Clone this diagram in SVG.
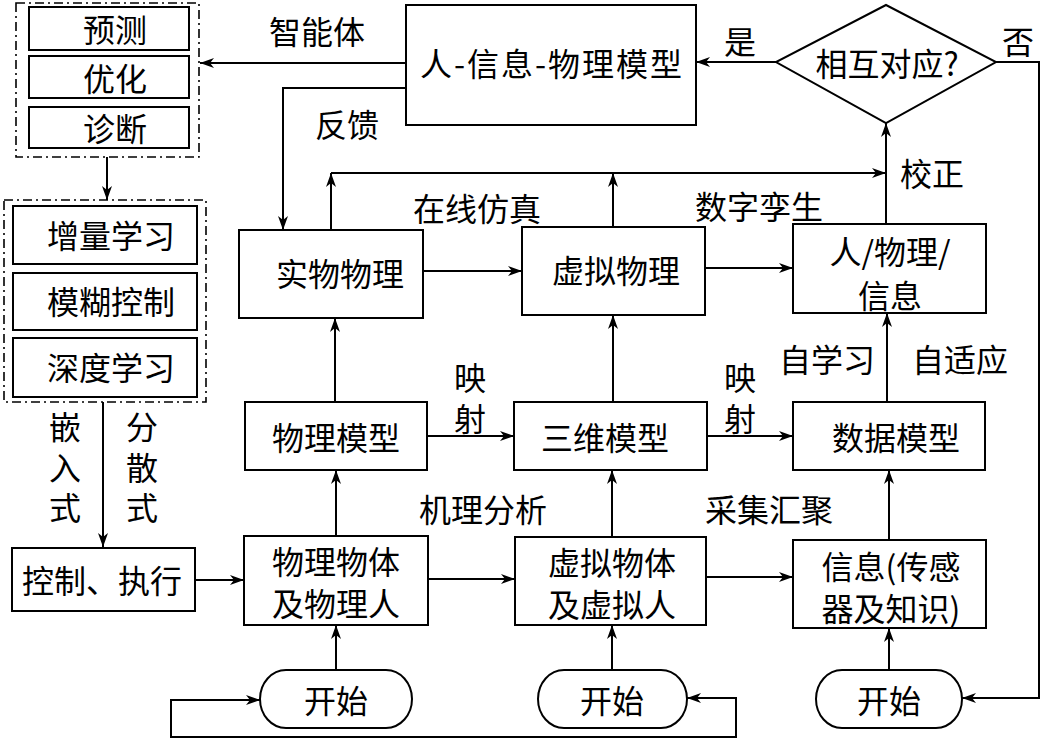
<svg xmlns="http://www.w3.org/2000/svg" width="1044" height="739" viewBox="0 0 1044 739">
<style>
.b{fill:#fff;stroke:#000;stroke-width:2}
.d{fill:none;stroke:#000;stroke-width:1.6;stroke-dasharray:9,4,2,4}
.t{font-family:"Noto Sans CJK SC","Liberation Sans",sans-serif;font-size:32px;fill:#000;text-anchor:middle;dominant-baseline:central}
.v{font-family:"Noto Sans CJK SC","Liberation Sans",sans-serif;font-size:32px;fill:#000;writing-mode:vertical-rl;letter-spacing:8.5px}
.c path{fill:none;stroke:#000;stroke-width:2;marker-end:url(#a)}
.c path.n{marker-end:none}
</style>
<defs>
<marker id="a" viewBox="0 0 14 10" refX="14" refY="5" markerWidth="14" markerHeight="10" markerUnits="userSpaceOnUse" orient="auto-start-reverse">
<path d="M0,0 L14,5 L0,10 L4,5 z" fill="#000"/>
</marker>
</defs>
<rect width="1044" height="739" fill="#fff"/>

<g id="grp1">
<rect class="d" x="16" y="3" width="183" height="154"/>
<rect class="b" x="29" y="7" width="160" height="43"/><text class="t" x="115" y="28">预测</text>
<rect class="b" x="29" y="56" width="160" height="42"/><text class="t" x="115" y="77">优化</text>
<rect class="b" x="29" y="107" width="160" height="41"/><text class="t" x="115" y="127">诊断</text>
</g>
<g id="grp2">
<rect class="d" x="4" y="200" width="202" height="202"/>
<rect class="b" x="13" y="206" width="184" height="58"/><text class="t" x="111" y="234">增量学习</text>
<rect class="b" x="13" y="273" width="184" height="57"/><text class="t" x="111" y="300">模糊控制</text>
<rect class="b" x="13" y="338" width="184" height="59"/><text class="t" x="111" y="366">深度学习</text>
</g>
<g id="ctrl"><rect class="b" x="12" y="548" width="183" height="63"/><text class="t" x="102" y="579">控制、执行</text></g>

<g id="cpsmodel"><rect class="b" x="406" y="5" width="290" height="120"/><text class="t" x="551" y="62" textLength="262" lengthAdjust="spacing">人-信息-物理模型</text></g>
<g id="decision"><polygon class="b" points="886,5 996,62 886,123 776,62"/><text class="t" x="887" y="62">相互对应?</text></g>

<g id="r1a"><rect class="b" x="239" y="230" width="184" height="88"/><text class="t" x="340" y="272">实物物理</text></g>
<g id="r1b"><rect class="b" x="522" y="227" width="183" height="88"/><text class="t" x="616" y="269">虚拟物理</text></g>
<g id="r1c"><rect class="b" x="793" y="224" width="193" height="89"/><text class="t" x="890" y="250">人/物理/</text><text class="t" x="890" y="294">信息</text></g>

<g id="r2a"><rect class="b" x="245" y="402" width="182" height="68"/><text class="t" x="336" y="436">物理模型</text></g>
<g id="r2b"><rect class="b" x="514" y="402" width="193" height="68"/><text class="t" x="605" y="436">三维模型</text></g>
<g id="r2c"><rect class="b" x="793" y="402" width="192" height="68"/><text class="t" x="896" y="436">数据模型</text></g>

<g id="r3a"><rect class="b" x="244" y="536" width="184" height="89"/><text class="t" x="336" y="560">物理物体</text><text class="t" x="336" y="602">及物理人</text></g>
<g id="r3b"><rect class="b" x="515" y="537" width="191" height="88"/><text class="t" x="612" y="561">虚拟物体</text><text class="t" x="612" y="603">及虚拟人</text></g>
<g id="r3c"><rect class="b" x="793" y="540" width="193" height="88"/><text class="t" x="891" y="565">信息(传感</text><text class="t" x="891" y="607">器及知识)</text></g>

<g id="s1"><rect class="b" x="260" y="670" width="152" height="58" rx="26" ry="29"/><text class="t" x="336" y="699">开始</text></g>
<g id="s2"><rect class="b" x="538" y="670" width="149" height="58" rx="26" ry="29"/><text class="t" x="612" y="699">开始</text></g>
<g id="s3"><rect class="b" x="816" y="670" width="146" height="58" rx="26" ry="29"/><text class="t" x="889" y="699">开始</text></g>

<g class="c" id="connectors">
<path d="M107,157 V200"/>
<path d="M103,402 V547"/>
<path d="M195,580 H244"/>
<path d="M406,63 H200"/>
<path d="M406,88 H283 V230"/>
<path d="M776,62 H696"/>
<path d="M996,62 H1039 V698 H962"/>
<path d="M886,224 V123"/>
<path d="M331,230 V173"/>
<path class="n" d="M331,173 H600"/>
<path d="M600,173 H886"/>
<path d="M613,227 V173"/>
<path d="M423,271 H522"/>
<path d="M705,268 H793"/>
<path d="M335,402 V318"/>
<path d="M613,402 V315"/>
<path d="M887,402 V313"/>
<path d="M427,436 H514"/>
<path d="M707,436 H793"/>
<path d="M336,536 V470"/>
<path d="M612,537 V470"/>
<path d="M889,540 V470"/>
<path d="M428,579 H515"/>
<path d="M706,577 H793"/>
<path d="M336,670 V625"/>
<path d="M612,670 V625"/>
<path d="M889,670 V628"/>
<path d="M687,698 H736 V737 H171 V700 H260" style="marker-start:url(#a)"/>
</g>

<g id="labels">
<text class="t" x="317" y="30">智能体</text>
<text class="t" x="347" y="123">反馈</text>
<text class="t" x="740" y="40">是</text>
<text class="t" x="1018" y="40">否</text>
<text class="t" x="932" y="172">校正</text>
<text class="t" x="477" y="207">在线仿真</text>
<text class="t" x="759" y="205">数字孪生</text>
<text class="v" x="470" y="362">映射</text>
<text class="v" x="740" y="362">映射</text>
<text class="t" x="827" y="358">自学习</text>
<text class="t" x="960" y="358">自适应</text>
<text class="t" x="483" y="508">机理分析</text>
<text class="t" x="769" y="508">采集汇聚</text>
<text class="v" x="65" y="411">嵌入式</text>
<text class="v" x="142" y="411">分散式</text>
</g>
</svg>
